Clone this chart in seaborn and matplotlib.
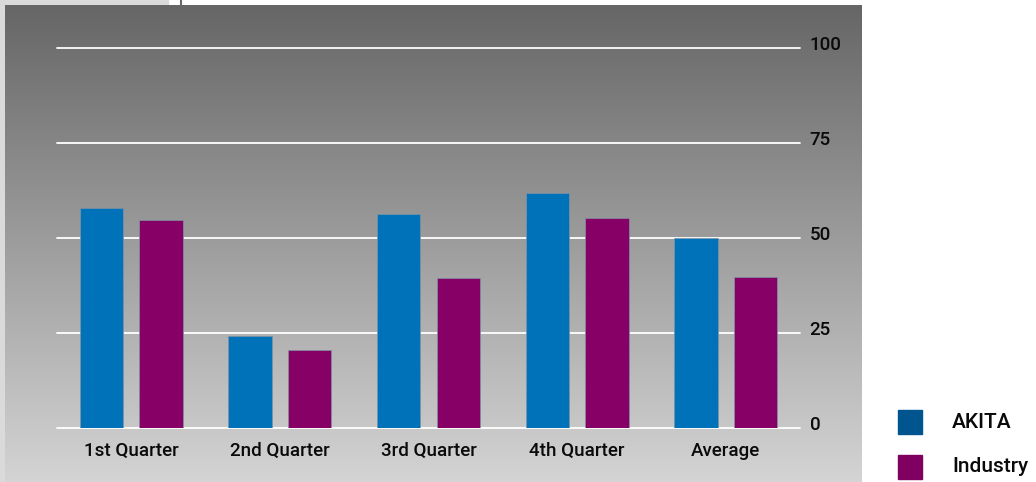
import numpy as np
import pandas as pd
import matplotlib
matplotlib.use("Agg")
import matplotlib.pyplot as plt
from matplotlib.patches import Rectangle
from matplotlib.colors import LinearSegmentedColormap
from matplotlib.transforms import ScaledTranslation
import seaborn as sns

categories = ["1st Quarter", "2nd Quarter", "3rd Quarter", "4th Quarter", "Average"]
akita = [57.9, 24.2, 56.3, 61.8, 50.0]
industry = [54.7, 20.5, 39.5, 55.3, 39.7]
series_names = ["AKITA", "Industry"]
y_ticks = [0, 25, 50, 75, 100]

bar_colors = ["#0072b9", "#870066"]
legend_colors = ["#00558f", "#800062"]

df = pd.DataFrame({
    "category": categories * 2,
    "value": akita + industry,
    "series": [series_names[0]] * len(categories) + [series_names[1]] * len(categories),
})

sns.set_theme(style="white")
plt.rcParams["font.family"] = ["Roboto", "DejaVu Sans"]

W, H = 1036, 482
fig = plt.figure(figsize=(W / 100, H / 100), dpi=100)
fig.patch.set_facecolor("white")

def fx(px):
    return px / W

def fy(py):
    return 1 - py / H

# light strips at top-left and left
fig.add_artist(Rectangle((0, fy(482)), fx(6), 1, transform=fig.transFigure, color="#dadada", zorder=0))
fig.add_artist(Rectangle((0, fy(6)), fx(168), 6 / H, transform=fig.transFigure, color="#dadada", zorder=0))
fig.add_artist(plt.Line2D([fx(181), fx(181)], [fy(0), fy(6)], transform=fig.transFigure, color="#666666", lw=1.5))

# gradient panel
bg = fig.add_axes([fx(5), fy(482), fx(861 - 5), (482 - 5) / H])
grad = np.linspace(0, 1, 256).reshape(-1, 1)
cmap = LinearSegmentedColormap.from_list("g", ["#666666", "#d4d4d4"])
bg.imshow(grad, aspect="auto", cmap=cmap, extent=[0, 1, 1, 0])
bg.set_axis_off()

ax = fig.add_axes([fx(57), fy(428), fx(800 - 57), (428 - 48) / H])
ax.patch.set_alpha(0)
sns.barplot(data=df, x="category", y="value", hue="series", palette=bar_colors,
            saturation=1, width=0.8, gap=0.27, ax=ax, legend=False, zorder=3,
            edgecolor="#7f93a3", linewidth=0.5)
ax.set_ylim(0, 100)
ax.set_xlim(-0.5, 4.5)
for t in y_ticks:
    ax.axhline(t, color="white", lw=1.3, zorder=1, clip_on=False)
for s in ax.spines.values():
    s.set_visible(False)
ax.set_xlabel("")
ax.set_ylabel("")
ax.yaxis.tick_right()
ax.set_yticks(y_ticks)
ax.tick_params(axis="y", length=0, pad=7, labelsize=13.5, labelcolor="#0a0a0a")
ax.tick_params(axis="x", length=0, pad=10, labelsize=13.5, labelcolor="#0a0a0a")
for lab in ax.get_xticklabels() + ax.get_yticklabels():
    lab.set_fontweight("medium")
shift = ScaledTranslation(0, 5 / 100, fig.dpi_scale_trans)
for lab in ax.get_yticklabels():
    lab.set_transform(lab.get_transform() + shift)

# legend
for i, (name, col) in enumerate(zip(series_names, legend_colors)):
    top = 410 + i * 45
    fig.add_artist(Rectangle((fx(898), fy(top + 24)), fx(24), 24 / H,
                             transform=fig.transFigure, color=col))
    fig.text(fx(952), fy(top + 12), name, ha="left", va="center",
             fontsize=15, fontweight="medium", color="#0a0a0a")

fig.savefig("out.png", dpi=100)
